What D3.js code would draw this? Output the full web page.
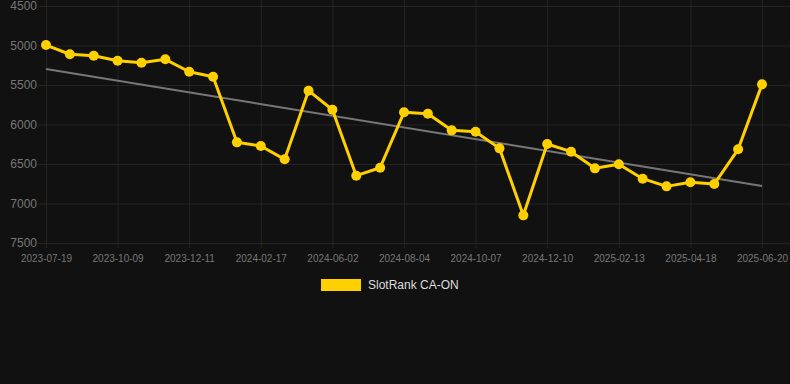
<!DOCTYPE html>
<html>
<head>
<meta charset="utf-8">
<script src="https://cdn.jsdelivr.net/npm/d3@7"></script>
<style>
  html, body { margin: 0; padding: 0; background: #111111; }
  svg { display: block; font-family: "Liberation Sans", Arial, sans-serif; }
  .grid line { stroke: #242424; stroke-width: 1; }
  .grid path { display: none; }
  .axis path { display: none; }
  .axis line { stroke: #242424; }
  .axis text { fill: #777777; }
</style>
</head>
<body>
<svg width="790" height="384"></svg>
<script>
// ranks, one point per ~3 weeks
const rankValues = [4994, 5111, 5129, 5192, 5218, 5175, 5332, 5395, 6226, 6272,
                    6441, 5572, 5813, 6648, 6547, 5846, 5863, 6074, 6091, 6302,
                    7150, 6247, 6344, 6555, 6504, 6686, 6783, 6732, 6754, 6314, 5492];
const tickLabels = ["2023-07-19", "2023-10-09", "2023-12-11", "2024-02-17", "2024-06-02",
                    "2024-08-04", "2024-10-07", "2024-12-10", "2025-02-13", "2025-04-18", "2025-06-20"];
const yTicks = [4500, 5000, 5500, 6000, 6500, 7000, 7500];
const trendValues = [5297, 6779];
const seriesName = "SlotRank CA-ON";

const svg = d3.select("svg");
const plotLeft = 46, plotRight = 762, plotTop = 6, plotBottom = 243;
const gold = "#ffd000";

const x = d3.scalePoint().domain(d3.range(rankValues.length)).range([plotLeft, plotRight]);
const y = d3.scaleLinear().domain([4500, 7500]).range([plotTop, plotBottom]);
const tickIdx = tickLabels.map((d, i) => i * 3);

// grid
svg.append("g").attr("class", "grid")
  .attr("transform", "translate(0," + plotBottom + ")")
  .call(d3.axisBottom(x).tickValues(tickIdx).tickSize(-(plotBottom + 10)).tickSizeOuter(0).tickFormat(""))
  .selectAll("line").attr("y1", 5);
svg.append("g").attr("class", "grid")
  .attr("transform", "translate(" + plotLeft + ",0)")
  .call(d3.axisLeft(y).tickValues(yTicks).tickSize(-(790 - plotLeft)).tickFormat(""))
  .selectAll("line").attr("x1", -8);

// axes labels
svg.append("g").attr("class", "axis")
  .attr("transform", "translate(" + plotLeft + ",0)")
  .call(d3.axisLeft(y).tickValues(yTicks).tickSize(0).tickPadding(9).tickFormat(d3.format("d")))
  .selectAll("text").style("font-size", "12px");
svg.append("g").attr("class", "axis")
  .attr("transform", "translate(0," + plotBottom + ")")
  .call(d3.axisBottom(x).tickValues(tickIdx).tickSize(0).tickPadding(12)
    .tickFormat((d, i) => tickLabels[i]))
  .selectAll("text").style("font-size", "10px");

// trend line
svg.append("line")
  .attr("x1", x(0)).attr("y1", y(trendValues[0]))
  .attr("x2", x(rankValues.length - 1)).attr("y2", y(trendValues[1]))
  .attr("stroke", "#777777").attr("stroke-width", 2);

// series
svg.append("path")
  .datum(rankValues)
  .attr("fill", "none")
  .attr("stroke", gold)
  .attr("stroke-width", 3)
  .attr("stroke-linejoin", "round")
  .attr("d", d3.line().x((d, i) => x(i)).y(d => y(d)));

svg.selectAll("circle.pt")
  .data(rankValues)
  .enter()
  .append("circle")
  .attr("class", "pt")
  .attr("cx", (d, i) => x(i))
  .attr("cy", d => y(d))
  .attr("r", 5)
  .attr("fill", gold);

// legend
const legend = svg.append("g").attr("transform", "translate(321,279)");
legend.append("rect").attr("width", 40).attr("height", 12).attr("fill", gold);
legend.append("text").attr("x", 47).attr("y", 10)
  .attr("fill", "#dddddd").style("font-size", "12px").text(seriesName);
</script>
</body>
</html>
